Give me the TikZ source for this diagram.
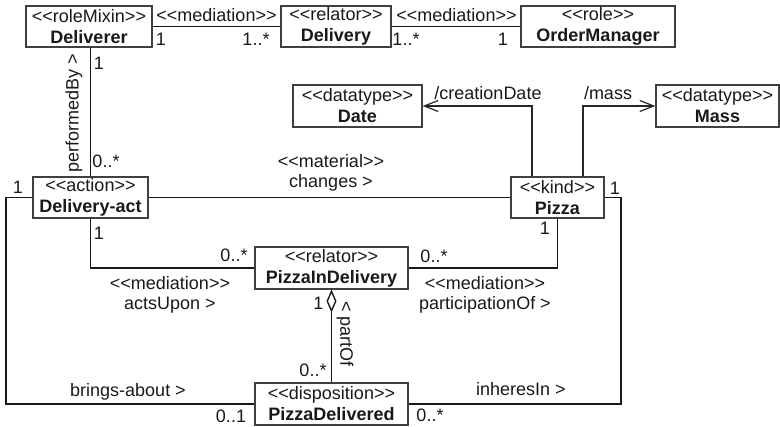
\documentclass[tikz,border=0pt]{standalone}
\usepackage{fontspec}
\setmainfont{Liberation Sans}[Ligatures=TeXOff]
\usetikzlibrary{arrows.meta}
\newcommand\stereo[1]{<<#1>>}
\begin{document}
\begin{tikzpicture}[x=1pt,y=-1pt,
  every node/.style={font=\fontsize{18}{21}\selectfont, text=black!90, inner sep=0pt},
  cls/.style={draw=black!75, line width=1.2pt, fill=white, align=center, minimum height=41pt},
  assoc/.style={line width=1.7pt, draw=black!90},
  derived/.style={line width=1.2pt, draw=black!85, -{Straight Barb[length=14pt,width=11pt]}},
  agg/.style={{Diamond[open,length=23pt,width=10pt,line width=1.4pt]}-}
]
\useasboundingbox (0,0) rectangle (780,427);

% classes
\node[cls, minimum width=126pt] (deliverer) at (89,26.5) {\stereo{roleMixin}\\\textbf{Deliverer}};
\node[cls, minimum width=110pt] (delivery) at (336,26.5) {\stereo{relator}\\\textbf{Delivery}};
\node[cls, minimum width=154pt] (ordermgr) at (598,26.5) {\stereo{role}\\\textbf{OrderManager}};
\node[cls, minimum width=129pt, minimum height=42pt] (date) at (357.5,106) {\stereo{datatype}\\\textbf{Date}};
\node[cls, minimum width=123pt, minimum height=42pt] (mass) at (717.5,106) {\stereo{datatype}\\\textbf{Mass}};
\node[cls, minimum width=115pt] (dact) at (90.5,197.5) {\stereo{action}\\\textbf{Delivery-act}};
\node[cls, minimum width=93pt] (pizza) at (557.5,197.5) {\stereo{kind}\\\textbf{Pizza}};
\node[cls, minimum width=153pt, minimum height=42pt] (pid) at (331.5,268) {\stereo{relator}\\\textbf{PizzaInDelivery}};
\node[cls, minimum width=153pt, minimum height=42pt] (pdel) at (331.5,404) {\stereo{disposition}\\\textbf{PizzaDelivered}};

% associations
\draw[assoc] (deliverer.east) -- (delivery.west);
\draw[assoc] (delivery.east) -- (ordermgr.west);
\draw[assoc] (dact.north) -- (dact.north |- deliverer.south);
\draw[assoc] (dact.east) -- (pizza.west);
\draw[assoc] (dact.west) -- ++(-26.3,0) |- (pdel.west);
\draw[assoc] (pizza.east) -- ++(16.7,0) |- (pdel.east);
\draw[assoc] (dact.south) |- (pid.west);
\draw[assoc] (pizza.south) |- (pid.east);
\draw[assoc, agg] (pid.south) -- (pdel.north);

% derived attributes
\draw[derived] ([xshift=-25.5pt]pizza.north) |- (date.east);
\draw[derived] ([xshift=25.5pt]pizza.north) |- (mass.west);

% labels
\node (l1) at (216.5,15) {\stereo{mediation}};
\node (l2) at (161,39) {1};
\node (l3) at (256,39) {1..*};
\node (l4) at (456.5,15) {\stereo{mediation}};
\node (l5) at (406,39) {1..*};
\node (l6) at (503,39) {1};
\node (l7) at (99,63) {1};
\node[rotate=90] (l8) at (74,113) {performedBy >};
\node (l9) at (106,161) {0..*};
\node (l10) at (18,187) {1};
\node (l11) at (331,161) {\stereo{material}};
\node (l12) at (331,183) {changes >};
\node (l13) at (99,233) {1};
\node (l14) at (234,255) {0..*};
\node (l15) at (615,188) {1};
\node (l16) at (545,228) {1};
\node (l17) at (434,256) {0..*};
\node (l18) at (170,283) {\stereo{mediation}};
\node (l19) at (170,305) {actsUpon >};
\node (l20) at (485,283) {\stereo{mediation}};
\node (l21) at (485,305) {participationOf >};
\node (l22) at (318.5,303) {1};
\node[rotate=-90] (l23) at (345,334) {< partOf};
\node (l24) at (313,370) {0..*};
\node (l25) at (128,392) {brings-about >};
\node (l26) at (231,416) {0..1};
\node (l27) at (521,389) {inheresIn >};
\node (l28) at (430,415) {0..*};
\node (l29) at (488,93) {/creationDate};
\node (l30) at (608,93) {/mass};
\end{tikzpicture}
\end{document}
